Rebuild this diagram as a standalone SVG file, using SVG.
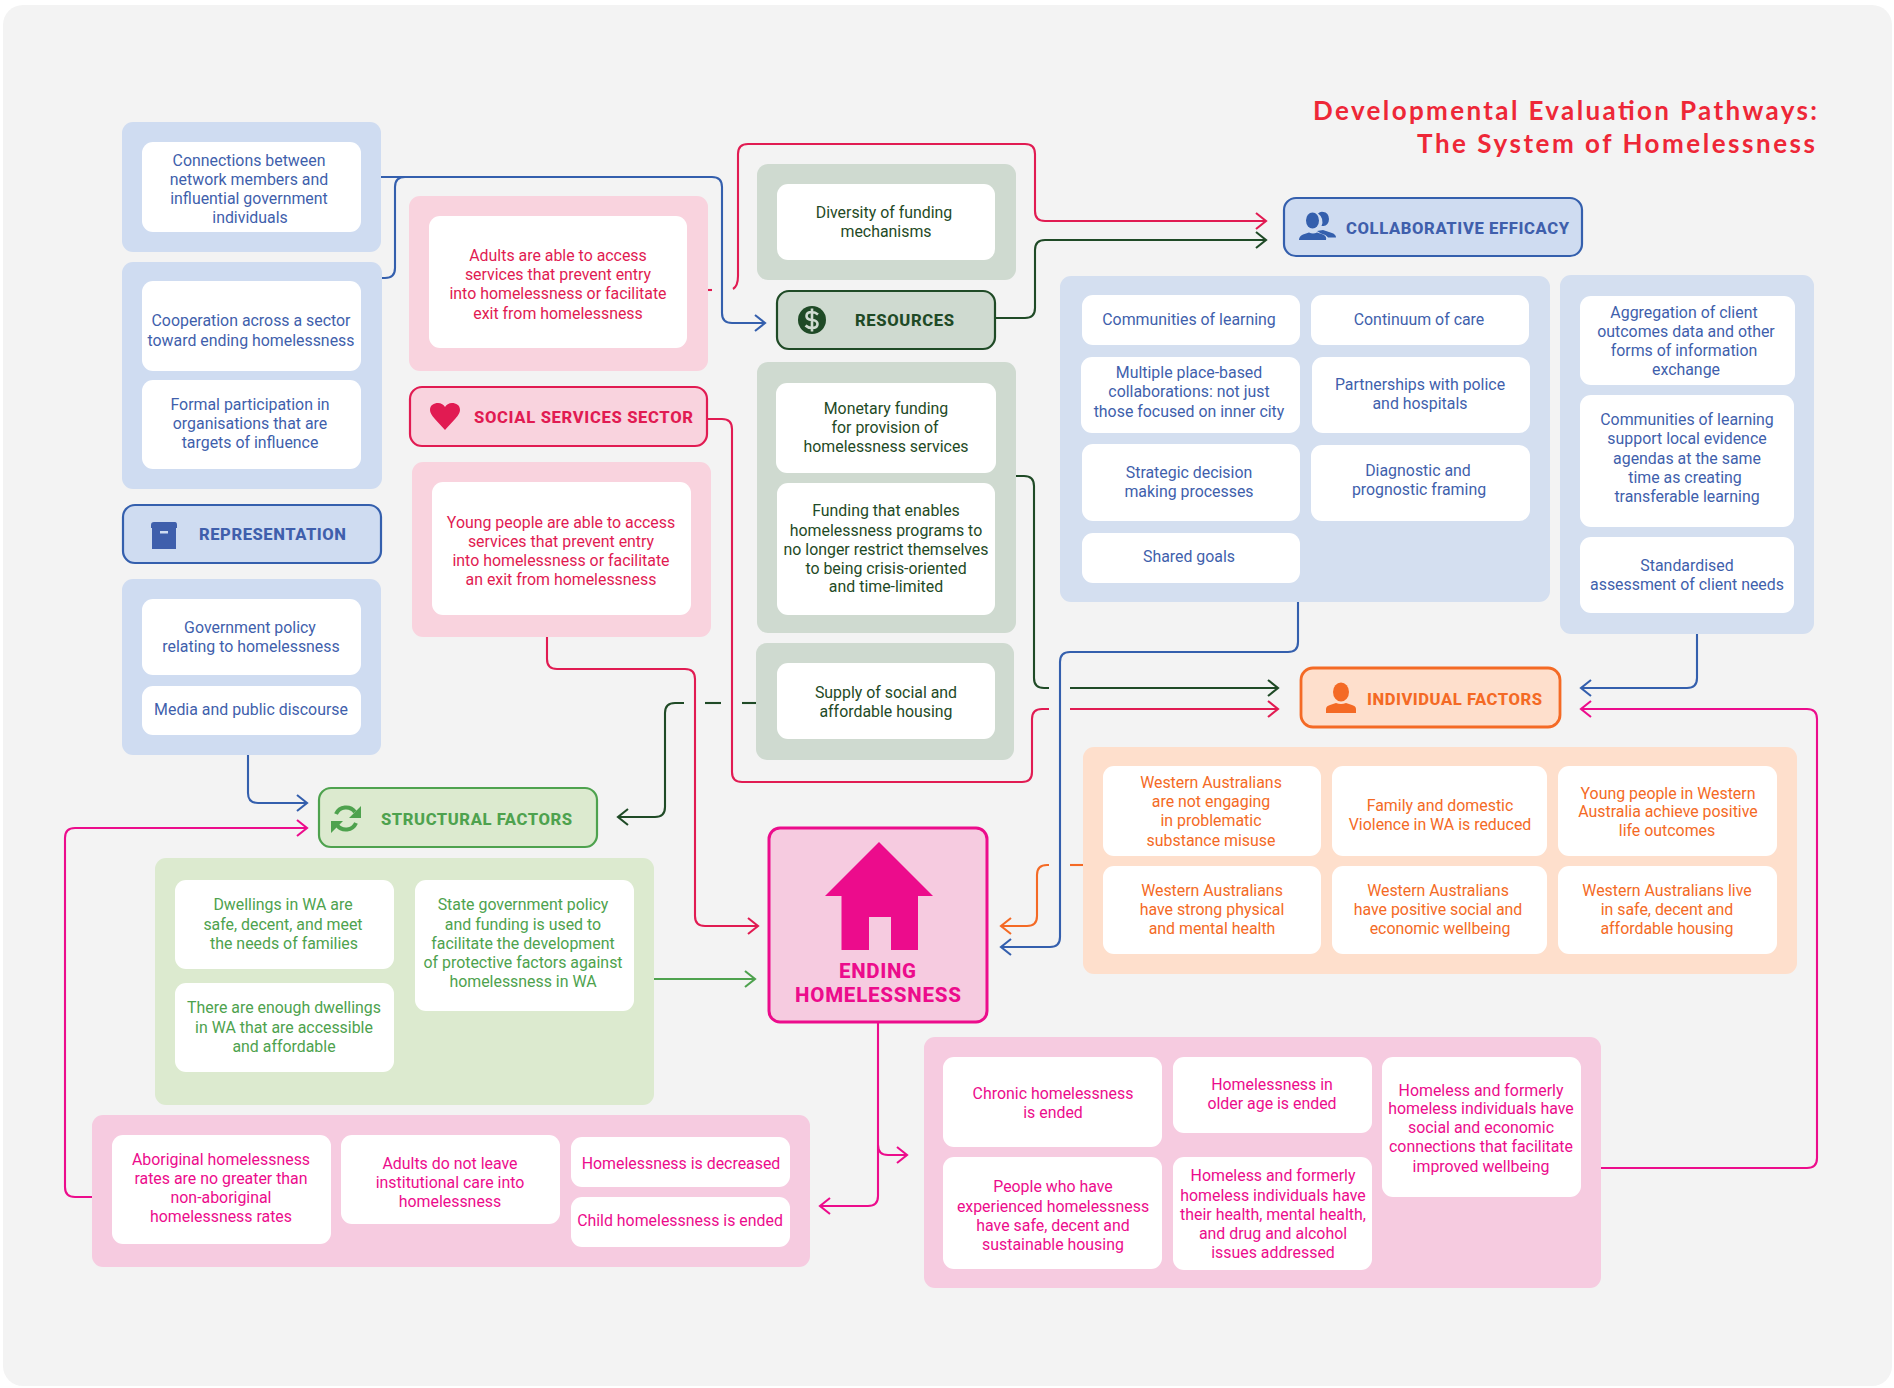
<svg xmlns="http://www.w3.org/2000/svg" width="1894" height="1388" viewBox="0 0 1894 1388">
<style>
text{font-family:Roboto,"Liberation Sans",sans-serif;font-size:15.9px;text-anchor:middle;transform:translateY(-.6px)}
.cell{fill:#fff}
.hd{font-weight:800;font-size:16.6px;text-anchor:start}
.blue{fill:#3f5fac}.red{fill:#e11b52}.dg{fill:#1f4a26}.gr{fill:#4ea24e}.or{fill:#f46a25}.mg{fill:#ec0c8c}
.pb{fill:#cfdcf1}.pb2{fill:#d4dff0}.pr{fill:#f9d3de}.pd{fill:#cfdad0}.pg{fill:#dceacf}.po{fill:#fedfcc}.pm{fill:#f6cbe0}
.hb{fill:#cfdcf1;stroke:#345fad}.hr{fill:#f9d3de;stroke:#e11b52}.hd2{fill:#cfdad0;stroke:#1f4a26}.hg{fill:#dceacf;stroke:#4ea24e}.ho{fill:#fedfcc;stroke:#f46a25}.hm{fill:#f6cbe0;stroke:#ec0c8c}
.hb,.hr,.hd2,.hg,.ho{stroke-width:2.2}
path.c{fill:none;stroke-width:2.1}
.cb{stroke:#345fad}.cr{stroke:#e11b52}.cd{stroke:#1f4a26}.cg{stroke:#4ea24e}.co{stroke:#f46a25}.cm{stroke:#ec0c8c}
.ab{marker-end:url(#mb)}.ar{marker-end:url(#mr)}.ad{marker-end:url(#md)}.ag{marker-end:url(#mg)}.ao{marker-end:url(#mo)}.am{marker-end:url(#mm)}
.title{font-family:Lato,"Liberation Sans",sans-serif;font-size:26px;font-weight:700;fill:#ee2737;text-anchor:start}
</style>
<defs>
<marker id="mb" markerUnits="userSpaceOnUse" viewBox="-12 -10 14 20" markerWidth="14" markerHeight="20" refX="0" refY="0" orient="auto"><path d="M-10-8L0 0L-10 8" fill="none" stroke="#345fad" stroke-width="2.1"/></marker>
<marker id="mr" markerUnits="userSpaceOnUse" viewBox="-12 -10 14 20" markerWidth="14" markerHeight="20" refX="0" refY="0" orient="auto"><path d="M-10-8L0 0L-10 8" fill="none" stroke="#e11b52" stroke-width="2.1"/></marker>
<marker id="md" markerUnits="userSpaceOnUse" viewBox="-12 -10 14 20" markerWidth="14" markerHeight="20" refX="0" refY="0" orient="auto"><path d="M-10-8L0 0L-10 8" fill="none" stroke="#1f4a26" stroke-width="2.1"/></marker>
<marker id="mg" markerUnits="userSpaceOnUse" viewBox="-12 -10 14 20" markerWidth="14" markerHeight="20" refX="0" refY="0" orient="auto"><path d="M-10-8L0 0L-10 8" fill="none" stroke="#4ea24e" stroke-width="2.1"/></marker>
<marker id="mo" markerUnits="userSpaceOnUse" viewBox="-12 -10 14 20" markerWidth="14" markerHeight="20" refX="0" refY="0" orient="auto"><path d="M-10-8L0 0L-10 8" fill="none" stroke="#f46a25" stroke-width="2.1"/></marker>
<marker id="mm" markerUnits="userSpaceOnUse" viewBox="-12 -10 14 20" markerWidth="14" markerHeight="20" refX="0" refY="0" orient="auto"><path d="M-10-8L0 0L-10 8" fill="none" stroke="#ec0c8c" stroke-width="2.1"/></marker>
</defs>
<rect width="1894" height="1388" fill="#fff"/>
<rect x="3" y="5" width="1889" height="1381" rx="20" fill="#f3f3f3"/>
<g id="title"><text class="title" x="1313" y="121" textLength="504">Developmental Evaluation Pathways:</text><text class="title" x="1417" y="154" textLength="398">The System of Homelessness</text></g>

<g id="panels">
<rect class="pb" x="122" y="122" width="259" height="130" rx="11"/>
<rect class="pb" x="122" y="262" width="260" height="227" rx="11"/>
<rect class="pb" x="122" y="579" width="259" height="176" rx="11"/>
<rect class="pr" x="409" y="196" width="299" height="175" rx="11"/>
<rect class="pr" x="412" y="462" width="299" height="175" rx="11"/>
<rect class="pd" x="757" y="164" width="259" height="116" rx="11"/>
<rect class="pd" x="757" y="362" width="259" height="271" rx="11"/>
<rect class="pd" x="756" y="643" width="258" height="117" rx="11"/>
<rect class="pb2" x="1060" y="276" width="490" height="326" rx="11"/>
<rect class="pb2" x="1560" y="275" width="254" height="359" rx="11"/>
<rect class="po" x="1083" y="747" width="714" height="227" rx="11"/>
<rect class="pg" x="155" y="858" width="499" height="247" rx="11"/>
<rect class="pm" x="92" y="1115" width="718" height="152" rx="11"/>
<rect class="pm" x="924" y="1037" width="677" height="251" rx="11"/>
</g>

<g id="n-connections"><rect class="cell" x="142" y="142" width="219" height="90" rx="11"/><text class="blue"><tspan x="249" y="167">Connections between</tspan><tspan x="249" y="186">network members and</tspan><tspan x="249" y="205">influential government</tspan><tspan x="250" y="224">individuals</tspan></text></g>
<g id="n-cooperation"><rect class="cell" x="142" y="281" width="219" height="90" rx="11"/><text class="blue"><tspan x="251" y="327">Cooperation across a sector</tspan><tspan x="251" y="347">toward ending homelessness</tspan></text></g>
<g id="n-formal"><rect class="cell" x="142" y="380" width="219" height="89" rx="11"/><text class="blue"><tspan x="250" y="411">Formal participation in</tspan><tspan x="250" y="430">organisations that are</tspan><tspan x="250" y="449">targets of influence</tspan></text></g>
<g id="n-representation"><rect class="hb" x="123" y="505" width="258" height="58" rx="12"/><path d="M151 525q0-3 3-3h21q2 0 2 3v3h-26zM152 528h24v21h-24z" fill="#3f5fac"/><rect x="160" y="531" width="8" height="2.5" fill="#cfdcf1"/><text class="hd blue" x="199" y="541" textLength="147">REPRESENTATION</text></g>
<g id="n-govpolicy"><rect class="cell" x="142" y="599" width="219" height="76" rx="11"/><text class="blue"><tspan x="250" y="634">Government policy</tspan><tspan x="251" y="653">relating to homelessness</tspan></text></g>
<g id="n-media"><rect class="cell" x="142" y="686" width="219" height="49" rx="11"/><text class="blue"><tspan x="251" y="716">Media and public discourse</tspan></text></g>

<g id="n-adults"><rect class="cell" x="429" y="216" width="258" height="132" rx="11"/><text class="red"><tspan x="558" y="262">Adults are able to access</tspan><tspan x="558" y="281">services that prevent entry</tspan><tspan x="558" y="300">into homelessness or facilitate</tspan><tspan x="558" y="320">exit from homelessness</tspan></text></g>
<g id="n-social"><rect class="hr" x="410" y="387" width="297" height="59" rx="12"/><path d="M445 430C437 421 430 415 430 410C430 405 434 403 438 403C441 403 444 405 445 407C446 405 449 403 452 403C456 403 460 405 460 410C460 415 453 421 445 430Z" fill="#e11b52"/><text class="hd red" x="474" y="424" textLength="219">SOCIAL SERVICES SECTOR</text></g>
<g id="n-young"><rect class="cell" x="432" y="482" width="259" height="133" rx="11"/><text class="red"><tspan x="561" y="529">Young people are able to access</tspan><tspan x="561" y="548">services that prevent entry</tspan><tspan x="561" y="567">into homelessness or facilitate</tspan><tspan x="561" y="586">an exit from homelessness</tspan></text></g>

<g id="n-diversity"><rect class="cell" x="777" y="184" width="218" height="76" rx="11"/><text class="dg"><tspan x="884" y="219">Diversity of funding</tspan><tspan x="886" y="238">mechanisms</tspan></text></g>
<g id="n-resources"><rect class="hd2" x="777" y="291" width="218" height="58" rx="12"/><circle cx="812" cy="320" r="14" fill="#1f4a26"/><path d="M818 314.500Q815 312 812 312Q806.500 312 806.500 316Q806.500 319.500 812 320Q817.500 320.500 817.500 324Q817.500 328 812 328Q808 328 805.500 325.500M812 308.500V331.500" fill="none" stroke="#cfdad0" stroke-width="2.600"/><text class="hd dg" x="855" y="327" textLength="99">RESOURCES</text></g>
<g id="n-monetary"><rect class="cell" x="776" y="383" width="220" height="90" rx="11"/><text class="dg"><tspan x="886" y="415">Monetary funding</tspan><tspan x="885" y="434">for provision of</tspan><tspan x="886" y="453">homelessness services</tspan></text></g>
<g id="n-funding"><rect class="cell" x="777" y="483" width="218" height="132" rx="11"/><text class="dg"><tspan x="886" y="517">Funding that enables</tspan><tspan x="886" y="537">homelessness programs to</tspan><tspan x="886" y="556">no longer restrict themselves</tspan><tspan x="886" y="575">to being crisis-oriented</tspan><tspan x="886" y="593">and time-limited</tspan></text></g>
<g id="n-supply"><rect class="cell" x="777" y="663" width="218" height="76" rx="11"/><text class="dg"><tspan x="886" y="699">Supply of social and</tspan><tspan x="886" y="718">affordable housing</tspan></text></g>

<g id="n-collab"><rect class="hb" x="1284" y="198" width="298" height="58" rx="12"/><path d="M1318 213.500a6.500 8 0 0 1 5.500-1.500a5.500 7 0 0 1 0 14q-1 0-2 0a10 10 0 0 0-3.500-12.500zM1299 240q0-4 4-5.500l6-2q4 2 8 0l6 2q4 1.500 3 5.500zM1317 231l6-1l9 3q4 1.500 4 4.500h-8q-2-3-7-4z" fill="#345fad"/><ellipse cx="1312.500" cy="220.500" rx="6.500" ry="8" fill="#345fad"/><text class="hd blue" x="1346" y="235" textLength="223">COLLABORATIVE EFFICACY</text></g>
<g id="n-communities"><rect class="cell" x="1082" y="295" width="218" height="50" rx="11"/><text class="blue"><tspan x="1189" y="326">Communities of learning</tspan></text></g>
<g id="n-continuum"><rect class="cell" x="1311" y="295" width="218" height="50" rx="11"/><text class="blue"><tspan x="1419" y="326">Continuum of care</tspan></text></g>
<g id="n-multiple"><rect class="cell" x="1081" y="357" width="219" height="76" rx="11"/><text class="blue"><tspan x="1189" y="379">Multiple place-based</tspan><tspan x="1189" y="398">collaborations: not just</tspan><tspan x="1189" y="418">those focused on inner city</tspan></text></g>
<g id="n-partnerships"><rect class="cell" x="1312" y="357" width="218" height="76" rx="11"/><text class="blue"><tspan x="1420" y="391">Partnerships with police</tspan><tspan x="1420" y="410">and hospitals</tspan></text></g>
<g id="n-strategic"><rect class="cell" x="1082" y="444" width="218" height="77" rx="11"/><text class="blue"><tspan x="1189" y="479">Strategic decision</tspan><tspan x="1189" y="498">making processes</tspan></text></g>
<g id="n-diagnostic"><rect class="cell" x="1311" y="445" width="219" height="76" rx="11"/><text class="blue"><tspan x="1418" y="477">Diagnostic and</tspan><tspan x="1419" y="496">prognostic framing</tspan></text></g>
<g id="n-shared"><rect class="cell" x="1082" y="533" width="218" height="50" rx="11"/><text class="blue"><tspan x="1189" y="563">Shared goals</tspan></text></g>
<g id="n-aggregation"><rect class="cell" x="1580" y="296" width="215" height="89" rx="11"/><text class="blue"><tspan x="1684" y="319">Aggregation of client</tspan><tspan x="1686" y="338">outcomes data and other</tspan><tspan x="1684" y="357">forms of information</tspan><tspan x="1686" y="376">exchange</tspan></text></g>
<g id="n-evidence"><rect class="cell" x="1580" y="395" width="214" height="132" rx="11"/><text class="blue"><tspan x="1687" y="426">Communities of learning</tspan><tspan x="1687" y="445">support local evidence</tspan><tspan x="1687" y="465">agendas at the same</tspan><tspan x="1685" y="484">time as creating</tspan><tspan x="1687" y="503">transferable learning</tspan></text></g>
<g id="n-standard"><rect class="cell" x="1580" y="537" width="214" height="76" rx="11"/><text class="blue"><tspan x="1687" y="572">Standardised</tspan><tspan x="1687" y="591">assessment of client needs</tspan></text></g>

<g id="n-individual"><rect class="ho" x="1301" y="668" width="259" height="59" rx="12" style="stroke-width:2.8"/><ellipse cx="1341" cy="692" rx="8" ry="9.500" fill="#f46a25"/><path d="M1326 713v-4q0-3 4-4l6-2q5 2 10 0l6 2q4 1 4 4v4z" fill="#f46a25"/><text class="hd or" x="1367" y="706" textLength="175">INDIVIDUAL FACTORS</text></g>
<g id="n-substance"><rect class="cell" x="1103" y="766" width="218" height="90" rx="11"/><text class="or"><tspan x="1211" y="789">Western Australians</tspan><tspan x="1211" y="808">are not engaging</tspan><tspan x="1211" y="827">in problematic</tspan><tspan x="1211" y="847">substance misuse</tspan></text></g>
<g id="n-family"><rect class="cell" x="1332" y="766" width="215" height="90" rx="11"/><text class="or"><tspan x="1440" y="812">Family and domestic</tspan><tspan x="1440" y="831">Violence in WA is reduced</tspan></text></g>
<g id="n-younglife"><rect class="cell" x="1558" y="766" width="219" height="90" rx="11"/><text class="or"><tspan x="1668" y="800">Young people in Western</tspan><tspan x="1668" y="818">Australia achieve positive</tspan><tspan x="1667" y="837">life outcomes</tspan></text></g>
<g id="n-physical"><rect class="cell" x="1103" y="866" width="218" height="88" rx="11"/><text class="or"><tspan x="1212" y="897">Western Australians</tspan><tspan x="1212" y="916">have strong physical</tspan><tspan x="1212" y="935">and mental health</tspan></text></g>
<g id="n-social2"><rect class="cell" x="1332" y="866" width="215" height="88" rx="11"/><text class="or"><tspan x="1438" y="897">Western Australians</tspan><tspan x="1438" y="916">have positive social and</tspan><tspan x="1440" y="935">economic wellbeing</tspan></text></g>
<g id="n-safe"><rect class="cell" x="1558" y="866" width="219" height="88" rx="11"/><text class="or"><tspan x="1667" y="897">Western Australians live</tspan><tspan x="1667" y="916">in safe, decent and</tspan><tspan x="1667" y="935">affordable housing</tspan></text></g>

<g id="n-ending"><rect class="hm" x="769" y="828" width="218" height="194" rx="11" stroke-width="3"/><path d="M879 842L933 896H918V950H891V917H869V950H841.500V896H825Z" fill="#ec0c8c"/><text class="hd mg" x="839" y="979" textLength="77" style="font-size:20.500px">ENDING</text><text class="hd mg" x="795" y="1003" textLength="166" style="font-size:20.500px">HOMELESSNESS</text></g>

<g id="n-structural"><rect class="hg" x="319" y="788" width="278" height="59" rx="12"/><path d="M336 814a11 11 0 0 1 19-2M337 825a11 11 0 0 0 19-2" fill="none" stroke="#4ea24e" stroke-width="4"/><path d="M361 806v12h-12zM331 833v-12h12z" fill="#4ea24e"/><text class="hd gr" x="381" y="826" textLength="191">STRUCTURAL FACTORS</text></g>
<g id="n-dwellings"><rect class="cell" x="175" y="880" width="219" height="89" rx="11"/><text class="gr"><tspan x="283" y="911">Dwellings in WA are</tspan><tspan x="283" y="931">safe, decent, and meet</tspan><tspan x="284" y="950">the needs of families</tspan></text></g>
<g id="n-enough"><rect class="cell" x="175" y="983" width="219" height="89" rx="11"/><text class="gr"><tspan x="284" y="1014">There are enough dwellings</tspan><tspan x="284" y="1034">in WA that are accessible</tspan><tspan x="284" y="1053">and affordable</tspan></text></g>
<g id="n-state"><rect class="cell" x="415" y="880" width="219" height="131" rx="11"/><text class="gr"><tspan x="523" y="911">State government policy</tspan><tspan x="523" y="931">and funding is used to</tspan><tspan x="523" y="950">facilitate the development</tspan><tspan x="523" y="969">of protective factors against</tspan><tspan x="523" y="988">homelessness in WA</tspan></text></g>

<g id="n-aboriginal"><rect class="cell" x="112" y="1135" width="219" height="109" rx="11"/><text class="mg"><tspan x="221" y="1166">Aboriginal homelessness</tspan><tspan x="221" y="1185">rates are no greater than</tspan><tspan x="221" y="1204">non-aboriginal</tspan><tspan x="221" y="1223">homelessness rates</tspan></text></g>
<g id="n-institutional"><rect class="cell" x="341" y="1135" width="219" height="89" rx="11"/><text class="mg"><tspan x="450" y="1170">Adults do not leave</tspan><tspan x="450" y="1189">institutional care into</tspan><tspan x="450" y="1208">homelessness</tspan></text></g>
<g id="n-decreased"><rect class="cell" x="571" y="1137" width="219" height="50" rx="11"/><text class="mg"><tspan x="681" y="1170">Homelessness is decreased</tspan></text></g>
<g id="n-child"><rect class="cell" x="571" y="1197" width="219" height="50" rx="11"/><text class="mg"><tspan x="680" y="1227">Child homelessness is ended</tspan></text></g>
<g id="n-chronic"><rect class="cell" x="943" y="1057" width="219" height="90" rx="11"/><text class="mg"><tspan x="1053" y="1100">Chronic homelessness</tspan><tspan x="1053" y="1119">is ended</tspan></text></g>
<g id="n-older"><rect class="cell" x="1173" y="1057" width="199" height="76" rx="11"/><text class="mg"><tspan x="1272" y="1091">Homelessness in</tspan><tspan x="1272" y="1110">older age is ended</tspan></text></g>
<g id="n-connections2"><rect class="cell" x="1382" y="1057" width="199" height="140" rx="11"/><text class="mg"><tspan x="1481" y="1097">Homeless and formerly</tspan><tspan x="1481" y="1115">homeless individuals have</tspan><tspan x="1481" y="1134">social and economic</tspan><tspan x="1481" y="1153">connections that facilitate</tspan><tspan x="1481" y="1173">improved wellbeing</tspan></text></g>
<g id="n-people"><rect class="cell" x="943" y="1157" width="219" height="112" rx="11"/><text class="mg"><tspan x="1053" y="1193">People who have</tspan><tspan x="1053" y="1213">experienced homelessness</tspan><tspan x="1053" y="1232">have safe, decent and</tspan><tspan x="1053" y="1251">sustainable housing</tspan></text></g>
<g id="n-health"><rect class="cell" x="1173" y="1157" width="199" height="113" rx="11"/><text class="mg"><tspan x="1273" y="1182">Homeless and formerly</tspan><tspan x="1273" y="1202">homeless individuals have</tspan><tspan x="1273" y="1221">their health, mental health,</tspan><tspan x="1273" y="1240">and drug and alcohol</tspan><tspan x="1273" y="1259">issues addressed</tspan></text></g>

<g id="connectors">
<path class="c cb ab" d="M381 177H712Q722 177 722 187V313Q722 323 732 323H765"/>
<path class="c cb" d="M382 278H385Q395 278 395 268V187Q395 177 405 177"/>
<path class="c cr" d="M708 290H712"/>
<path class="c cr ar" d="M733 289Q738 286 738 276V154Q738 144 748 144H1025Q1035 144 1035 154V211Q1035 221 1045 221H1266"/>
<path class="c cd ad" d="M996 318H1025Q1035 318 1035 308V250Q1035 240 1045 240H1266"/>
<path class="c cr" d="M708 419H722Q732 419 732 429V772Q732 782 742 782H1022Q1032 782 1032 772V719Q1032 709 1042 709H1049"/>
<path class="c cr ar" d="M1070 709H1278"/>
<path class="c cd" d="M1016 476H1024Q1034 476 1034 486V678Q1034 688 1044 688H1049"/>
<path class="c cd ad" d="M1070 688H1278"/>
<path class="c cb ab" d="M1298 602V642Q1298 652 1288 652H1070Q1060 652 1060 662V937Q1060 947 1050 947H1001"/>
<path class="c co" d="M1083 865H1070"/>
<path class="c co ao" d="M1049 865H1047Q1037 865 1037 875V916Q1037 926 1027 926H1001"/>
<path class="c cr ar" d="M547 637V659Q547 669 557 669H685Q695 669 695 679V916Q695 926 705 926H758"/>
<path class="c cd" d="M756 703H742"/>
<path class="c cd" d="M721 703H705"/>
<path class="c cd ad" d="M684 703H675Q665 703 665 713V807Q665 817 655 817H618"/>
<path class="c cg ag" d="M654 979H755"/>
<path class="c cm am" d="M878 1023V1196Q878 1206 868 1206H820"/>
<path class="c cm am" d="M878 1145Q878 1155 888 1155H907"/>
<path class="c cb ab" d="M248 755V793Q248 803 258 803H307"/>
<path class="c cm am" d="M92 1197H75Q65 1197 65 1187V838Q65 828 75 828H307"/>
<path class="c cm am" d="M1601 1168H1807Q1817 1168 1817 1158V719Q1817 709 1807 709H1581"/>
<path class="c cb ab" d="M1697 634V678Q1697 688 1687 688H1581"/>
</g>
</svg>
